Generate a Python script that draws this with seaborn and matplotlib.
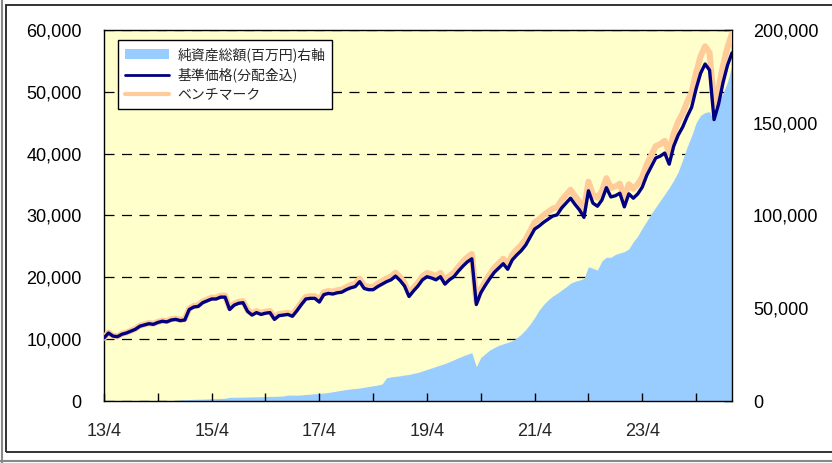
import matplotlib
matplotlib.use("Agg")
import matplotlib.pyplot as plt
import seaborn as sns
import numpy as np
import pandas as pd
from matplotlib.patches import Rectangle, Patch
from matplotlib.lines import Line2D
from matplotlib.ticker import FixedLocator, StrMethodFormatter

# ---- data (monthly, month 0 = 2013/4) ----
months = list(range(141))

nav = [10200, 11000, 10500, 10400, 10800, 11000, 11300, 11600, 12100, 12300,
       12500, 12400, 12700, 12900, 12800, 13100, 13200, 13000, 13100, 14800,
       15200, 15300, 15900, 16200, 16500, 16500, 16800, 16800, 14800, 15500,
       15800, 15900, 14500, 13900, 14300, 14000, 14200, 14300, 13200, 13800,
       13900, 14000, 13700, 14600, 15600, 16500, 16600, 16600, 16000, 17200,
       17400, 17300, 17500, 17600, 18000, 18300, 18500, 19300, 18200, 18000,
       18000, 18500, 18900, 19300, 19600, 20200, 19500, 18600, 16900, 17800,
       18600, 19600, 20100, 19900, 19600, 20100, 18900, 19600, 20100, 21000,
       21800, 22500, 23000, 15600, 17500, 18700, 19800, 20800, 21500, 22200,
       21300, 22800, 23600, 24300, 25200, 26500, 27800, 28300, 28900, 29400,
       29900, 30100, 31200, 32000, 32800, 31800, 30900, 29700, 34000, 32000,
       31500, 32500, 34500, 33000, 33200, 33600, 31400, 33500, 32800, 33500,
       34600, 36500, 37900, 39300, 39600, 40100, 38300, 41200, 43000, 44300,
       46000, 47500, 50500, 53000, 54500, 53500, 45500, 48000, 51500, 54300,
       56300]

bench = [10240, 11050, 10550, 10450, 10860, 11060, 11370, 11680, 12180, 12390,
         12600, 12500, 12800, 13010, 12920, 13220, 13330, 13130, 13240, 14960,
         15370, 15480, 16090, 16400, 16710, 16720, 17030, 17030, 15010, 15720,
         16030, 16140, 14730, 14120, 14530, 14230, 14440, 14550, 13430, 14050,
         14160, 14260, 13960, 14890, 15910, 16830, 16940, 16950, 16340, 17570,
         17780, 17690, 17900, 18010, 18420, 18740, 18950, 19770, 18650, 18450,
         18460, 18980, 19400, 19820, 20130, 20750, 20040, 19120, 17380, 18310,
         19140, 20180, 20700, 20500, 20200, 20720, 19490, 20220, 20750, 21680,
         22520, 23250, 23770, 16130, 18100, 19350, 20490, 21530, 22270, 23000,
         22080, 23640, 24480, 25210, 26150, 27510, 28870, 29400, 30040, 30560,
         31100, 31320, 32470, 33320, 34160, 33130, 32200, 30960, 35460, 33380,
         32870, 33930, 36030, 34480, 34690, 35130, 32840, 35040, 34330, 35070,
         36230, 38240, 39720, 41200, 41530, 42070, 40190, 43250, 45150, 46530,
         48340, 49930, 53100, 55750, 57350, 56310, 47910, 50560, 54260, 57230,
         59360]

aum = [0, 0, 0, 0, 0, 0, 0, 0, 0, 0,
       0, 0, 0, 0, 0, 0, 0, 600, 700, 800,
       900, 950, 1000, 1100, 1200, 1300, 1400, 1500, 2000, 2000,
       2050, 2100, 2150, 2200, 2250, 2300, 2400, 2500, 2500, 2600,
       2700, 3200, 3200, 3100, 3300, 3500, 3700, 3900, 4100, 4300,
       4600, 5000, 5400, 5800, 6200, 6500, 6700, 7000, 7400, 7800,
       8200, 8600, 9200, 12500, 13000, 13300, 13600, 14000, 14300, 14900,
       15400, 16200, 17000, 17800, 18600, 19400, 20200, 21200, 22200, 23300,
       24300, 25200, 26000, 18500, 23500, 25500, 27500, 28800, 30000, 30800,
       31600, 32500, 34000, 36000, 38500, 41500, 45000, 49000, 52000, 54500,
       56500, 58000, 59800, 61500, 63500, 64500, 65200, 66000, 72400, 71500,
       70600, 75500, 77500, 77500, 79000, 79800, 80500, 82000, 85900, 89000,
       93200, 97000, 101000, 104500, 108000, 111500, 115000, 119000, 123500, 130000,
       137000, 143000, 150000, 154000, 155500, 156000, 150500, 161000, 166000, 172000,
       181000]

x_major = [0, 24, 48, 72, 96, 120]
x_labels = ["13/4", "15/4", "17/4", "19/4", "21/4", "23/4"]
x_minor = [12, 36, 60, 84, 108, 132]
left_ticks = [0, 10000, 20000, 30000, 40000, 50000, 60000]
right_ticks = [0, 50000, 100000, 150000, 200000]

legend_labels = ["純資産総額(百万円)右軸", "基準価格(分配金込)", "ベンチマーク"]

C_AREA = "#99CCFF"
C_NAV = "#000080"
C_BENCH = "#FFCC99"
C_BG = "#FFFFCC"

df = pd.DataFrame({"month": months, "nav": nav, "bench": bench, "aum": aum})

sns.set_theme(style="white")
plt.rcParams["font.family"] = ["Liberation Sans", "Noto Sans CJK JP", "DejaVu Sans"]

fig = plt.figure(figsize=(8.32, 4.63), dpi=100)
W, H = 832, 463
pos = [104 / W, 1 - 401 / H, (732 - 104) / W, (401 - 30) / H]

# bottom layer: background + grid + left labels
ax = fig.add_axes(pos)
ax.set_facecolor(C_BG)
ax.set_xlim(0, 140)
ax.set_ylim(0, 60000)
ax.yaxis.set_major_locator(FixedLocator(left_ticks))
ax.yaxis.set_major_formatter(StrMethodFormatter("{x:,.0f}"))
ax.tick_params(axis="y", direction="in", length=0, pad=16, labelsize=13,
               labelcolor="black")
ax.tick_params(axis="x", which="both", bottom=False, labelbottom=False)
ax.grid(axis="y", color="black", lw=0.9, linestyle=(0, (8, 6)))
ax.grid(axis="x", visible=False)
for s in ax.spines.values():
    s.set_visible(False)

# middle layer: area on right axis
ax2 = ax.twinx()
ax2.set_ylim(0, 200000)
ax2.fill_between(df["month"], df["aum"], color=C_AREA, lw=0)
ax2.yaxis.set_major_locator(FixedLocator(right_ticks))
ax2.yaxis.set_major_formatter(StrMethodFormatter("{x:,.0f}"))
ax2.tick_params(axis="y", direction="in", length=6, width=1, color="black",
                pad=15, labelsize=13, labelcolor="black")
ax2.grid(False)
for s in ax2.spines.values():
    s.set_visible(True)
    s.set_color("black")
    s.set_linewidth(1.0)

# top layer: lines
ax3 = fig.add_axes(pos, sharex=ax, sharey=ax)
ax3.patch.set_visible(False)
sns.lineplot(data=df, x="month", y="bench", ax=ax3, color=C_BENCH, lw=4.4,
             legend=False)
sns.lineplot(data=df, x="month", y="nav", ax=ax3, color=C_NAV, lw=2.4,
             legend=False)
ax3.set_xlabel("")
ax3.set_ylabel("")
ax3.set_xlim(0, 140)
ax3.set_ylim(0, 60000)
ax3.xaxis.set_major_locator(FixedLocator(x_major))
ax3.xaxis.set_minor_locator(FixedLocator(x_minor))
ax3.set_xticklabels(x_labels)
ax3.tick_params(axis="x", which="both", direction="in", length=6, width=1,
                color="black", bottom=True, labelbottom=True, pad=16)
ax3.tick_params(axis="x", labelsize=13)
ax3.tick_params(axis="y", left=False, labelleft=False, right=False, labelright=False)
ax3.grid(False)
for s in ax3.spines.values():
    s.set_visible(False)

ax.set_zorder(0)
ax2.set_zorder(1)
ax3.set_zorder(2)

handles = [Patch(facecolor=C_AREA, edgecolor="none"),
           Line2D([], [], color=C_NAV, lw=2.0),
           Line2D([], [], color=C_BENCH, lw=3.0)]
leg = ax3.legend(handles, legend_labels, loc="upper left",
                 bbox_to_anchor=(0.022, 0.973), borderaxespad=0,
                 prop={"family": ["Noto Sans CJK JP", "DejaVu Sans"], "size": 10},
                 handlelength=3.2, handletextpad=0.6, borderpad=0.5,
                 labelspacing=0.42, fancybox=False, framealpha=1,
                 edgecolor="black", facecolor="white")
leg.get_frame().set_linewidth(1.0)

# outer frame
fig.add_artist(Rectangle((6 / W, 1 - 452 / H), (840 - 6) / W, (452 - 5) / H,
                         transform=fig.transFigure, fill=False,
                         ec="#222222", lw=1.3))
fig.add_artist(Line2D([1.5 / W, 1.5 / W], [0, 1], transform=fig.transFigure,
                      color="#888888", lw=1.5))
fig.add_artist(Line2D([0, 1], [1 - 461 / H, 1 - 461 / H], transform=fig.transFigure,
                      color="#888888", lw=1.5))

fig.savefig("out.png", dpi=100, facecolor="white")
